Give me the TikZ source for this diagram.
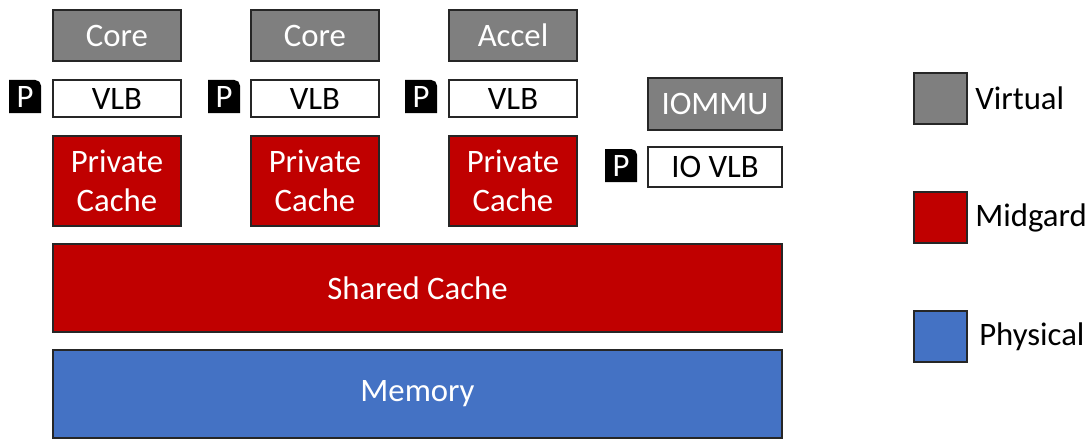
\documentclass[tikz,border=0pt]{standalone}
\usepackage{fontspec}
\setmainfont{Carlito}
\usetikzlibrary{positioning}
\definecolor{virtgray}{HTML}{7F7F7F}
\definecolor{midred}{HTML}{C00000}
\definecolor{physblue}{HTML}{4472C4}
\tikzset{
  blk/.style={draw=black!85, line width=1pt, inner sep=0pt, outer sep=0pt,
    font=\fontsize{23.3}{28}\selectfont, align=center},
  virt/.style={blk, fill=virtgray, text=white, minimum width=3.2cm, minimum height=1.275cm},
  vlbbox/.style={blk, fill=white, text=black, minimum width=3.2cm, minimum height=0.925cm},
  cache/.style={blk, fill=midred, text=white, minimum width=3.2cm, minimum height=2.25cm},
  pbox/.style={inner sep=0pt, outer sep=0pt, text=white, minimum width=0.8cm,
    minimum height=0.825cm, font=\fontsize{23.3}{28}\selectfont,
    path picture={\fill[black] (path picture bounding box.south west)
      -- (path picture bounding box.north west)
      -- ([xshift=-4pt]path picture bounding box.north east)
      arc[start angle=90, end angle=0, radius=4pt]
      -- (path picture bounding box.south east) -- cycle;}},
  legbox/.style={draw=black!85, line width=1pt, minimum width=1.325cm,
    minimum height=1.275cm, inner sep=0pt, outer sep=0pt},
  legtext/.style={inner sep=0pt, font=\fontsize{23.3}{28}\selectfont}
}
\begin{document}
\begin{tikzpicture}
  \useasboundingbox (0,0) rectangle (27.2,-11);
  % cores and accelerator
  \node[virt] (core1) at (2.925,-0.8875) {Core};
  \node[virt, right=1.75cm of core1] (core2) {Core};
  \node[virt, right=1.75cm of core2] (accel) {Accel};
  % VLBs
  \node[vlbbox, below=0.475cm of core1] (vlb1) {VLB};
  \node[vlbbox, below=0.475cm of core2] (vlb2) {VLB};
  \node[vlbbox, below=0.475cm of accel] (vlb3) {VLB};
  \node[pbox, left=0.3cm of vlb1.north west, anchor=north east] (p1) {P};
  \node[pbox, left=0.275cm of vlb2.north west, anchor=north east] (p2) {P};
  \node[pbox, left=0.3cm of vlb3.north west, anchor=north east] (p3) {P};
  % private caches
  \node[cache, below=0.475cm of vlb1] (pc1) {Private\\Cache};
  \node[cache, below=0.475cm of vlb2] (pc2) {Private\\Cache};
  \node[cache, below=0.475cm of vlb3] (pc3) {Private\\Cache};
  % IO side
  \node[virt, minimum width=3.35cm, minimum height=1.3cm] (iommu) at (17.875,-2.6) {IOMMU};
  \node[vlbbox, minimum width=3.35cm, minimum height=1cm, below=0.425cm of iommu] (iovlb) {IO VLB};
  \node[pbox, left=0.275cm of iovlb.north west, anchor=north east, yshift=-0.05cm] (p4) {P};
  % shared levels
  \node[cache, minimum width=18.225cm, minimum height=2.2cm,
    below=0.45cm of pc1.south west, anchor=north west] (llc) {Shared Cache};
  \node[blk, fill=physblue, text=white, minimum width=18.225cm, minimum height=2.2cm,
    below=0.45cm of llc] (mem) {Memory};
  % legend
  \node[legbox, fill=virtgray] (lv) at (23.5125,-2.4625) {};
  \node[legbox, fill=midred, below=1.7cm of lv] (lm) {};
  \node[legbox, fill=physblue, below=1.7cm of lm] (lp) {};
  \node[legtext, right=0.2cm of lv] (tv) {Virtual};
  \node[legtext, right=0.2cm of lm] (tm) {Midgard};
  \node[legtext, right=0.3cm of lp] (tp) {Physical};
\end{tikzpicture}
\end{document}
